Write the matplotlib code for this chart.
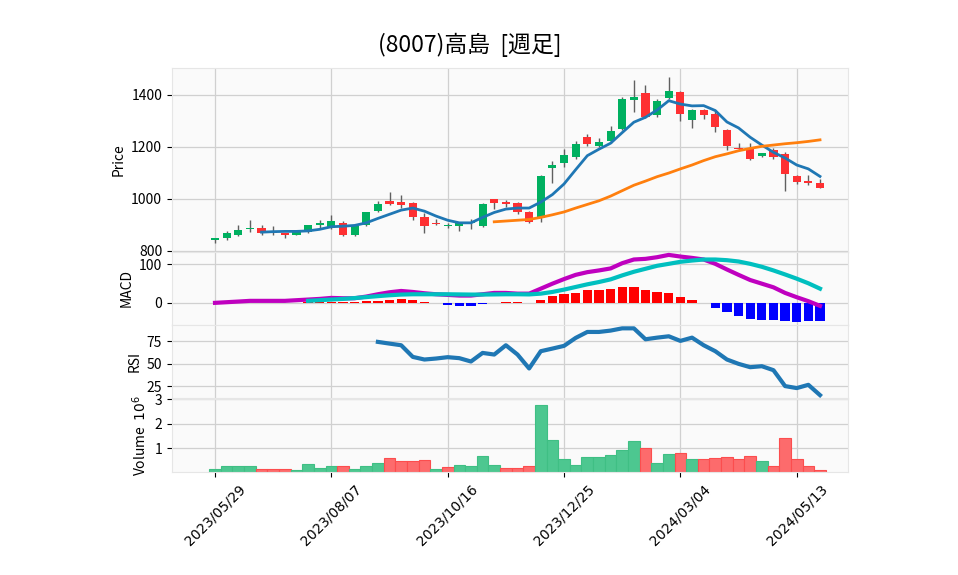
import numpy as np
import pandas as pd
import matplotlib
matplotlib.use("Agg")
import matplotlib.pyplot as plt

plt.rcParams['font.family'] = ['Noto Sans CJK JP', 'DejaVu Sans']

# -------------------------------------------------
# weekly data
# -------------------------------------------------
dates = pd.date_range("2023-05-29", periods=53, freq="7D")

opens = [840, 849, 860, 882, 889, 875, 867, 860, 871, 898,
         886, 907, 860, 898, 951, 993, 989, 984, 930, 906,
         896, 894, 905, 894, 997, 987, 984, 949, 924, 1117,
         1136, 1159, 1239, 1204, 1221, 1270, 1382, 1408, 1321, 1390,
         1412, 1304, 1342, 1327, 1266, 1197, 1192, 1163, 1186, 1172,
         1088, 1070, 1062]
highs = [850, 875, 897, 919, 897, 896, 869, 879, 900, 917,
         939, 915, 896, 950, 992, 1026, 1013, 986, 946, 922,
         907, 912, 920, 984, 999, 994, 986, 951, 1093, 1147,
         1192, 1221, 1250, 1234, 1280, 1391, 1458, 1438, 1383, 1468,
         1414, 1345, 1345, 1340, 1268, 1215, 1215, 1178, 1194, 1179,
         1090, 1093, 1077]
lows = [828, 841, 858, 873, 861, 860, 850, 859, 868, 888,
        884, 856, 858, 894, 948, 975, 965, 917, 866, 898,
        889, 876, 884, 892, 961, 969, 943, 905, 911, 1061,
        1122, 1153, 1204, 1201, 1214, 1266, 1333, 1310, 1317, 1383,
        1301, 1271, 1309, 1259, 1186, 1186, 1148, 1160, 1155, 1030,
        1057, 1052, 1040]
closes = [848, 866, 878, 889, 868, 866, 860, 878, 897, 905,
          915, 861, 894, 947, 981, 979, 975, 930, 894, 901,
          900, 909, 910, 981, 983, 980, 948, 909, 1089, 1130,
          1168, 1212, 1212, 1220, 1262, 1385, 1392, 1314, 1378, 1415,
          1326, 1342, 1321, 1278, 1203, 1190, 1155, 1176, 1162, 1094,
          1066, 1060, 1040]

# volume in millions, and up(1)/down(0) colour flag of each bar
volume = [0.18, 0.30, 0.30, 0.30, 0.18, 0.18, 0.18, 0.14, 0.38, 0.22,
          0.30, 0.30, 0.18, 0.30, 0.42, 0.63, 0.50, 0.50, 0.54, 0.18,
          0.26, 0.34, 0.30, 0.71, 0.34, 0.22, 0.22, 0.30, 2.75, 1.36,
          0.58, 0.34, 0.67, 0.67, 0.75, 0.95, 1.32, 1.03, 0.42, 0.79,
          0.83, 0.58, 0.58, 0.63, 0.67, 0.58, 0.71, 0.50, 0.30, 1.44,
          0.58, 0.30, 0.14]
vol_up = [1, 1, 1, 1, 0, 0, 0, 1, 1, 1,
          1, 0, 1, 1, 1, 0, 0, 0, 0, 1,
          0, 1, 1, 1, 1, 0, 0, 0, 1, 1,
          1, 1, 1, 1, 1, 1, 1, 0, 1, 1,
          0, 1, 0, 0, 0, 0, 0, 1, 0, 0,
          0, 0, 0]

# moving averages (5 and 25 weeks)
ma5 = [None] * 4 + [871, 873, 874, 874, 876, 882, 892, 894, 897, 907,
                    924, 940, 956, 964, 952, 933, 917, 907, 907, 928,
                    947, 960, 964, 964, 987, 1016, 1057, 1112, 1166, 1191,
                    1214, 1255, 1295, 1314, 1342, 1378, 1365, 1358, 1359, 1340,
                    1296, 1273, 1237, 1207, 1179, 1157, 1130, 1115, 1086]
ma25 = [None] * 24 + [911, 914, 917, 920, 928, 938, 949, 964, 978, 992,
                      1010, 1031, 1052, 1068, 1085, 1099, 1115, 1130, 1147, 1162,
                      1173, 1185, 1194, 1202, 1207, 1212, 1216, 1221, 1227]

# MACD
macd = [0, 1.7, 3.4, 5.2, 5.2, 5.2, 5.2, 6.9, 8.6, 10.3,
        12.9, 12, 12, 16.4, 22.4, 27.6, 31, 28.4, 25, 22.4,
        20.7, 19, 19, 22.4, 25.9, 25.9, 24, 24, 37, 50,
        62, 73, 80, 84.5, 89.7, 103.4, 113, 114.7, 119, 125,
        120.7, 117.2, 113, 101.7, 87, 73, 59.5, 50, 40.5, 25.9,
        14.7, 4.3, -7.8]
signal = [None] * 8 + [5.2, 7, 8.6, 10.3, 12.5, 15, 17.5, 19.8, 21.6, 22.4,
                       22.4, 22.4, 22.4, 22, 21.6, 21.6, 22, 22.4, 22.4, 22,
                       24, 28.4, 34.5, 41.4, 48.3, 54.3, 61.2, 71.6, 81, 88.8,
                       96.6, 101.7, 107, 110.3, 113, 113, 111.2, 107.8, 101.7, 94,
                       84.5, 74, 63, 51, 37]
hist = [None] * 8 + [1, 1.5, 1.7, 2.6, 3.4, 5.2, 6, 8.6, 10.3, 6.9,
                     1.7, 0, -4.3, -6.9, -6.9, -1.7, 0.8, 1.7, 1.7, 0.5,
                     6.9, 17, 24, 26.7, 32.8, 32.8, 35.3, 40.5, 40.5, 32.8,
                     27.6, 25, 14.7, 6.9, 0, -12.9, -23.3, -33.6, -41.4, -44,
                     -45.7, -47.4, -49, -46.6, -46.6]

# RSI (14)
rsi = [None] * 14 + [74.3, 72.4, 70.6, 57.7, 54.8, 55.9, 57.4, 56.3, 52.6, 62.1,
                     60.3, 70.6, 60.3, 44.9, 64, 66.9, 69.9, 78.7, 85.3, 85.3,
                     86.8, 89.3, 89.3, 77.2, 79, 80.5, 75.4, 79, 70.6, 64,
                     54.8, 50, 46.3, 47.4, 43, 25.4, 23.2, 26.8, 15.4]

title = "(8007)高島  [週足]"

# -------------------------------------------------
# figure
# -------------------------------------------------
up_c, down_c = "#00b060", "#fe3032"
vup_c, vdown_c = "#4dc790", "#fd6b6c"
face = "#fafafa"
grid_c = "#d0d0d0"

x = np.arange(len(dates))
o = np.array(opens, dtype=float)
c = np.array(closes, dtype=float)
up = c >= o

fig = plt.figure(figsize=(9.58, 5.75), dpi=100)
left, width = 0.1795, 0.7056
ax_p = fig.add_axes([left, 0.5624, width, 0.3193])
ax_m = fig.add_axes([left, 0.4348, width, 0.1277], sharex=ax_p)
ax_r = fig.add_axes([left, 0.3070, width, 0.1278], sharex=ax_p)
ax_v = fig.add_axes([left, 0.1791, width, 0.1278], sharex=ax_p)

for ax in (ax_p, ax_m, ax_r, ax_v):
    ax.set_facecolor(face)
    ax.grid(True, color=grid_c, linestyle="-", linewidth=0.9)
    ax.set_axisbelow(True)
    for s in ax.spines.values():
        s.set_color("#e6e6e6")
    ax.tick_params(axis="y", labelsize=10)

# candles
ax_p.vlines(x, lows, highs, color="#606060", linewidth=1, zorder=2)
body_lo = np.minimum(o, c)
body_h = np.maximum(np.abs(c - o), 1.5)
ax_p.bar(x, body_h, bottom=body_lo, width=0.7,
         color=np.where(up, up_c, down_c), zorder=3)
ax_p.plot(x, np.array(ma5, dtype=float), color="#1f77b4", linewidth=2, zorder=4)
ax_p.plot(x, np.array(ma25, dtype=float), color="#ff7f0e", linewidth=2, zorder=4)
ax_p.set_ylim(796, 1504)
ax_p.set_yticks([800, 1000, 1200, 1400])
ax_p.set_ylabel("Price")

# MACD
h = np.array(hist, dtype=float)
ax_m.bar(x, h, width=0.8, color=np.where(h >= 0, "r", "b"), zorder=2)
ax_m.plot(x, macd, color="m", linewidth=3, zorder=3)
ax_m.plot(x, np.array(signal, dtype=float), color="c", linewidth=3, zorder=4)
ax_m.set_yticks([0, 100])
ax_m.set_ylabel("MACD")

# RSI
ax_r.plot(x, np.array(rsi, dtype=float), color="#1f77b4", linewidth=3)
ax_r.set_yticks([25, 50, 75])
ax_r.set_ylabel("RSI")

# volume
vcols = [vup_c if u else vdown_c for u in vol_up]
ecols = ["#3fbf84" if u else "#fc4d4e" for u in vol_up]
ax_v.bar(x, volume, width=1.0, color=vcols, edgecolor=ecols, linewidth=0.8, zorder=2)
ax_v.set_ylim(0.3 * min(volume), 1.1 * max(volume))
ax_v.set_yticks([1, 2, 3])
ax_v.set_ylabel("Volume  $10^{6}$")

ax_p.set_xlim(-3.7, 54.4)
ticks = x[::10]
ax_v.set_xticks(ticks)
ax_v.set_xticklabels([dates[i].strftime("%Y/%m/%d") for i in ticks],
                     rotation=45, fontsize=10, family="DejaVu Sans")
for ax in (ax_p, ax_m, ax_r):
    ax.tick_params(axis="x", bottom=False, labelbottom=False)

fig.text(0.49, 0.922, title, ha="center", va="center", fontsize=16.5)

fig.savefig("out.png", dpi=100)
